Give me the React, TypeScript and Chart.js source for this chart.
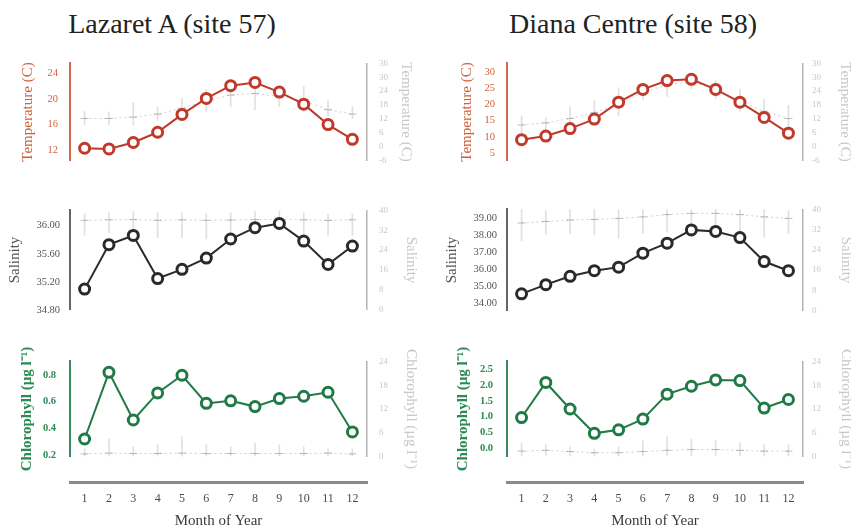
import React, { useEffect, useRef } from "react";
import { Chart, registerables } from "chart.js";
Chart.register(...registerables);

const FONT = "'Liberation Serif', 'Times New Roman', serif";
Chart.defaults.font.family = FONT;

// ---------- data ----------
const months = [1, 2, 3, 4, 5, 6, 7, 8, 9, 10, 11, 12];
const siteTitles = ["Lazaret A (site 57)", "Diana Centre (site 58)"];
const xTitle = "Month of Year";
const tempTitle = "Temperature (C)";
const salTitle = "Salinity";
const chlTitle = "Chlorophyll (µg l⁻¹)";

// Lazaret A
const tempA = [12.3, 12.2, 13.2, 14.8, 17.6, 20.1, 22.1, 22.6, 21.1, 19.2, 16.0, 13.7];
const tempAMed = [12.2, 12.2, 12.8, 14.1, 16.6, 19.8, 22.3, 23.0, 21.7, 19.8, 16.0, 14.1];
const tempALo = [9.6, 9.5, 9.4, 11.5, 12.8, 15.3, 17.2, 16.0, 17.2, 15.3, 13.4, 12.2];
const tempAHi = [15.3, 15.0, 19.1, 17.2, 21.0, 24.8, 27.3, 27.3, 26.1, 26.1, 19.8, 17.2];

const salA = [35.1, 35.73, 35.86, 35.25, 35.38, 35.54, 35.81, 35.97, 36.03, 35.78, 35.45, 35.71];
const salAMed = [36.0, 36.2, 36.3, 36.0, 36.2, 36.0, 36.1, 36.3, 36.4, 36.2, 36.0, 36.2];
const salALo = [30.0, 31.0, 32.0, 29.0, 29.0, 28.5, 30.0, 31.0, 32.0, 30.5, 30.0, 30.0];
const salAHi = [38.5, 39.0, 39.5, 39.0, 39.0, 38.5, 39.0, 39.5, 40.0, 39.0, 38.5, 38.5];

const chlA = [0.322, 0.82, 0.464, 0.666, 0.798, 0.588, 0.607, 0.564, 0.624, 0.641, 0.671, 0.375];
const chlAMed = [0.7, 0.9, 0.8, 0.8, 0.9, 0.8, 0.8, 0.8, 0.8, 0.8, 0.9, 0.7];
const chlALo = [0.2, 0.2, 0.2, 0.2, 0.1, 0.2, 0.2, 0.2, 0.2, 0.2, 0.2, 0.2];
const chlAHi = [2.0, 4.5, 2.5, 3.0, 5.0, 3.0, 2.5, 3.5, 3.0, 2.5, 2.0, 2.0];

// Diana Centre
const tempD = [9.2, 10.3, 12.6, 15.5, 20.7, 24.6, 27.3, 27.7, 24.6, 20.7, 16.0, 11.2];
const tempDMed = [9.4, 10.3, 12.2, 14.7, 18.5, 23.5, 26.7, 28.0, 24.8, 19.8, 15.3, 12.2];
const tempDLo = [4.6, 6.0, 7.1, 9.6, 13.4, 20.4, 21.7, 24.8, 21.0, 15.3, 10.3, 4.6];
const tempDHi = [13.4, 12.5, 17.2, 19.8, 25.4, 27.3, 31.1, 30.5, 28.6, 24.8, 20.4, 17.9];

const salD = [34.57, 35.11, 35.6, 35.93, 36.14, 36.96, 37.55, 38.33, 38.24, 37.88, 36.47, 35.93];
const salDMed = [34.6, 35.2, 35.8, 36.0, 36.4, 37.0, 37.9, 38.4, 38.4, 37.9, 37.0, 36.4];
const salDLo = [27.4, 30.0, 30.5, 30.0, 28.5, 30.5, 31.0, 32.0, 31.5, 31.0, 29.0, 30.5];
const salDHi = [40.0, 39.5, 40.0, 40.0, 40.0, 40.0, 40.0, 40.0, 40.0, 40.0, 40.0, 39.5];

const chlD = [0.97, 2.08, 1.24, 0.47, 0.58, 0.92, 1.71, 1.96, 2.16, 2.14, 1.27, 1.54];
const chlDMed = [1.4, 1.6, 1.3, 1.0, 1.0, 1.3, 1.6, 1.8, 1.8, 1.6, 1.4, 1.4];
const chlDLo = [0.2, 0.3, 0.2, 0.2, 0.2, 0.2, 0.3, 0.3, 0.3, 0.3, 0.2, 0.2];
const chlDHi = [3.5, 3.0, 2.5, 2.0, 2.5, 4.0, 5.0, 4.5, 4.0, 3.5, 3.0, 3.0];

// tick labels
const tempATicks = [12, 16, 20, 24];
const tempDTicks = [5, 10, 15, 20, 25, 30];
const salATicks = [34.8, 35.2, 35.6, 36.0];
const salDTicks = [34, 35, 36, 37, 38, 39];
const chlATicks = [0.2, 0.4, 0.6, 0.8];
const chlDTicks = [0.0, 0.5, 1.0, 1.5, 2.0, 2.5];
const tempRightTicks = [-6, 0, 6, 12, 18, 24, 30, 36];
const salRightTicks = [0, 8, 16, 24, 32, 40];
const chlRightTicks = [0, 6, 12, 18, 24];

// ---------- styles / layout ----------
const RED = { line: "#c0392b", label: "#d2603a", axis: "#cf6a4c" };
const GREY = { line: "#2a2a2a", label: "#555555", axis: "#666666" };
const GREEN = { line: "#1f7a45", label: "#2c8a55", axis: "#3a8c5e" };

const COLS = [
  { colLeft: 0, canvasW: 425, areaLeft: 70, areaRight: 367 },
  { colLeft: 425, canvasW: 445, areaLeft: 507, areaRight: 803 },
];
const ROWS = [
  { top: 57, bottom: 167 },
  { top: 205, bottom: 315 },
  { top: 353, bottom: 465 },
];

type Spec = {
  col: number;
  row: number;
  values: number[];
  med: number[];
  lo: number[];
  hi: number[];
  yMin: number;
  yMax: number;
  yTicks: number[];
  decimals: number;
  y2Min: number;
  y2Max: number;
  y2Ticks: number[];
  title: string;
  colors: { line: string; label: string; axis: string };
  bold: boolean;
  leftTitleX: number;
  rightTitleX: number;
  leftPad: number;
  rightPad: number;
};

const panels: Spec[] = [
  { col: 0, row: 0, values: tempA, med: tempAMed, lo: tempALo, hi: tempAHi, yMin: 10.35, yMax: 25.6, yTicks: tempATicks, decimals: 0, y2Min: -6, y2Max: 36, y2Ticks: tempRightTicks, title: tempTitle, colors: RED, bold: false, leftTitleX: 28, rightTitleX: 406, leftPad: 12, rightPad: 12 },
  { col: 0, row: 1, values: salA, med: salAMed, lo: salALo, hi: salAHi, yMin: 34.81, yMax: 36.215, yTicks: salATicks, decimals: 2, y2Min: 0, y2Max: 40, y2Ticks: salRightTicks, title: salTitle, colors: GREY, bold: false, leftTitleX: 15, rightTitleX: 411, leftPad: 10, rightPad: 12 },
  { col: 0, row: 2, values: chlA, med: chlAMed, lo: chlALo, hi: chlAHi, yMin: 0.19, yMax: 0.902, yTicks: chlATicks, decimals: 1, y2Min: 0, y2Max: 24, y2Ticks: chlRightTicks, title: chlTitle, colors: GREEN, bold: true, leftTitleX: 27, rightTitleX: 411, leftPad: 14, rightPad: 12 },
  { col: 1, row: 0, values: tempD, med: tempDMed, lo: tempDLo, hi: tempDHi, yMin: 2.75, yMax: 32.6, yTicks: tempDTicks, decimals: 0, y2Min: -6, y2Max: 36, y2Ticks: tempRightTicks, title: tempTitle, colors: RED, bold: false, leftTitleX: 467, rightTitleX: 845, leftPad: 12, rightPad: 9 },
  { col: 1, row: 1, values: salD, med: salDMed, lo: salDLo, hi: salDHi, yMin: 33.58, yMax: 39.54, yTicks: salDTicks, decimals: 2, y2Min: 0, y2Max: 40, y2Ticks: salRightTicks, title: salTitle, colors: GREY, bold: false, leftTitleX: 452, rightTitleX: 846, leftPad: 10, rightPad: 9 },
  { col: 1, row: 2, values: chlD, med: chlDMed, lo: chlDLo, hi: chlDHi, yMin: -0.27, yMax: 2.75, yTicks: chlDTicks, decimals: 1, y2Min: 0, y2Max: 24, y2Ticks: chlRightTicks, title: chlTitle, colors: GREEN, bold: true, leftTitleX: 463, rightTitleX: 846, leftPad: 14, rightPad: 9 },
];

const VPAD = 12;
const TITLE_OFF = 13;

function PanelChart({ p }: { p: Spec }) {
  const ref = useRef<HTMLCanvasElement>(null);
  const col = COLS[p.col];
  const row = ROWS[p.row];
  const cTop = row.top - VPAD;
  const cH = row.bottom - row.top + 2 * VPAD;
  useEffect(() => {
    const padL = p.leftTitleX - TITLE_OFF - col.colLeft;
    const leftW = col.areaLeft - (p.leftTitleX - TITLE_OFF);
    const rightW = p.rightTitleX + TITLE_OFF - col.areaRight;
    const padR = col.colLeft + col.canvasW - (p.rightTitleX + TITLE_OFF);
    const chart = new Chart(ref.current as HTMLCanvasElement, {
      type: "line",
      data: {
        datasets: [
          {
            type: "line",
            data: months.map((m, i) => ({ x: m, y: p.values[i] })),
            yAxisID: "y",
            borderColor: p.colors.line,
            backgroundColor: "#ffffff",
            borderWidth: 2,
            pointRadius: 5,
            pointBorderWidth: 3,
            pointBackgroundColor: "#ffffff",
            pointBorderColor: p.colors.line,
            tension: 0,
            order: 0,
            clip: false,
          } as any,
          {
            type: "line",
            data: months.map((m, i) => ({ x: m, y: p.med[i] })),
            yAxisID: "y2",
            borderColor: "rgba(150,150,150,0.45)",
            borderWidth: 1,
            borderDash: [2, 3],
            pointStyle: "line",
            pointRadius: 4,
            pointBorderWidth: 1,
            pointBorderColor: "rgba(140,140,140,0.55)",
            order: 1,
          } as any,
          {
            type: "bar",
            data: months.map((m, i) => ({ x: m, y: [p.lo[i], p.hi[i]] })),
            yAxisID: "y2",
            backgroundColor: "rgba(160,160,160,0.32)",
            borderWidth: 0,
            barThickness: 1,
            order: 2,
          } as any,
        ],
      },
      options: {
        responsive: false,
        maintainAspectRatio: false,
        animation: false,
        devicePixelRatio: 1,
        events: [],
        layout: { padding: { left: padL, right: padR, top: VPAD, bottom: VPAD }, autoPadding: false },
        plugins: { legend: { display: false }, tooltip: { enabled: false } },
        scales: {
          x: { type: "linear", min: 0.4, max: 12.6, display: false, offset: false },
          y: {
            type: "linear",
            position: "left",
            min: p.yMin,
            max: p.yMax,
            afterBuildTicks: (s: any) => {
              s.ticks = p.yTicks.map((v) => ({ value: v }));
            },
            afterFit: (s: any) => {
              s.width = leftW;
            },
            ticks: {
              autoSkip: false,
              padding: p.leftPad,
              color: p.colors.label,
              font: { size: 10.5, weight: p.bold ? "bold" : "normal" },
              callback: (v: any) => Number(v).toFixed(p.decimals),
            },
            grid: { display: false, drawTicks: false },
            border: { display: true, color: p.colors.axis, width: 2 },
            title: {
              display: true,
              text: p.title,
              color: p.colors.label,
              font: { size: 15, weight: p.bold ? "bold" : "normal" },
            },
          },
          y2: {
            type: "linear",
            position: "right",
            min: p.y2Min,
            max: p.y2Max,
            afterBuildTicks: (s: any) => {
              s.ticks = p.y2Ticks.map((v) => ({ value: v }));
            },
            afterFit: (s: any) => {
              s.width = rightW;
            },
            ticks: {
              autoSkip: false,
              padding: p.rightPad,
              color: "#c8c8c8",
              font: { size: 9 },
            },
            grid: { display: false, drawTicks: false },
            border: { display: true, color: "#b4b4b4", width: 1.5 },
            title: { display: true, text: p.title, color: "#c8c8c8", font: { size: 15 } },
          },
        },
      } as any,
    });
    return () => chart.destroy();
  }, []);
  return (
    <canvas
      ref={ref}
      width={col.canvasW}
      height={cH}
      style={{ position: "absolute", left: col.colLeft, top: cTop, width: col.canvasW, height: cH }}
    />
  );
}

const AX_TOP = 440;
const AX_H = 95;
const AX_LINE = 482;

function XAxisChart({ c }: { c: number }) {
  const ref = useRef<HTMLCanvasElement>(null);
  const col = COLS[c];
  useEffect(() => {
    const axisH = AX_TOP + AX_H - AX_LINE;
    const chart = new Chart(ref.current as HTMLCanvasElement, {
      type: "line",
      data: { datasets: [] },
      options: {
        responsive: false,
        maintainAspectRatio: false,
        animation: false,
        devicePixelRatio: 1,
        events: [],
        layout: {
          padding: { left: col.areaLeft - col.colLeft, right: col.colLeft + col.canvasW - col.areaRight, top: 0, bottom: 0 },
          autoPadding: false,
        },
        plugins: { legend: { display: false }, tooltip: { enabled: false } },
        scales: {
          x: {
            type: "linear",
            position: "bottom",
            min: 0.4,
            max: 12.6,
            afterBuildTicks: (s: any) => {
              s.ticks = months.map((v) => ({ value: v }));
            },
            afterFit: (s: any) => {
              s.height = axisH;
            },
            ticks: { autoSkip: false, maxRotation: 0, padding: 10, color: "#4a4a4a", font: { size: 12 } },
            grid: { display: false, drawTicks: false },
            border: { display: true, color: "#8a8a8a", width: 3 },
            title: { display: true, text: xTitle, color: "#3a3a3a", font: { size: 15 }, padding: { top: 4, bottom: 5 } },
          },
          y: { type: "linear", display: false, min: 0, max: 1 },
        },
      } as any,
    });
    return () => chart.destroy();
  }, []);
  return (
    <canvas
      ref={ref}
      width={col.canvasW}
      height={AX_H}
      style={{ position: "absolute", left: col.colLeft, top: AX_TOP, width: col.canvasW, height: AX_H }}
    />
  );
}

const titleCenters = [172, 633];

export default function App() {
  return (
    <div
      style={{
        position: "absolute",
        left: 0,
        top: 0,
        width: 851,
        height: 529,
        overflow: "hidden",
        background: "#ffffff",
      }}
    >
      {siteTitles.map((t, i) => (
        <div
          key={t}
          style={{
            position: "absolute",
            left: titleCenters[i] - 200,
            width: 400,
            top: 8,
            textAlign: "center",
            fontFamily: FONT,
            fontSize: 28,
            lineHeight: "31px",
            color: "#222222",
            whiteSpace: "nowrap",
          }}
        >
          {t}
        </div>
      ))}
      {panels.map((p, i) => (
        <PanelChart key={i} p={p} />
      ))}
      <XAxisChart c={0} />
      <XAxisChart c={1} />
    </div>
  );
}
